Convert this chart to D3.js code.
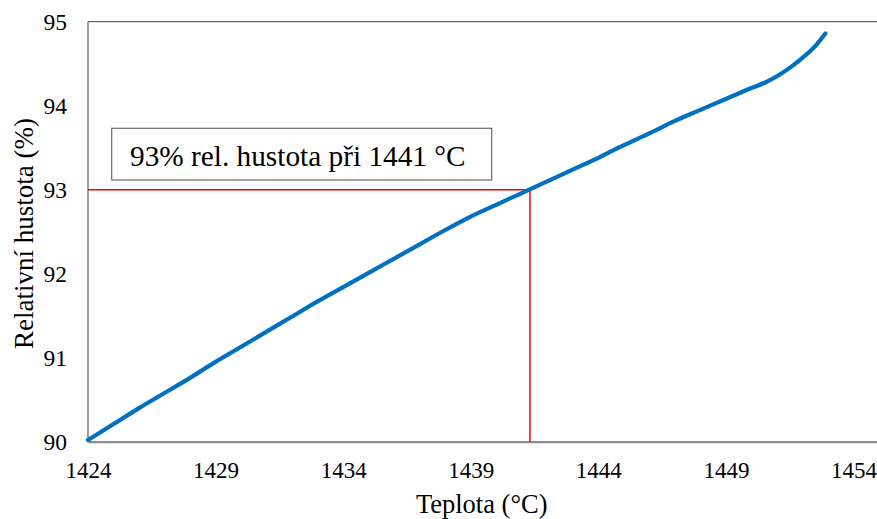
<!DOCTYPE html>
<html><head><meta charset="utf-8">
<script src="https://cdn.jsdelivr.net/npm/d3@7"></script>
<style>body{margin:0;background:#fff;}svg{display:block;}</style>
</head><body>
<svg id="c" width="877" height="519"></svg>
<script>
const temperature = [1424,1425,1426,1427,1428,1429,1430,1431,1432,1433,1434,1435,1436,1437,1438,1439,1440,1441,1442,1443,1444,1445,1446,1447,1448,1449,1450,1450.5,1451,1451.5,1452,1452.5,1452.9];
const density = [90.02,90.21,90.40,90.58,90.76,90.95,91.13,91.31,91.49,91.67,91.84,92.01,92.18,92.35,92.52,92.68,92.82,92.96,93.10,93.24,93.38,93.53,93.67,93.82,93.95,94.08,94.21,94.27,94.35,94.45,94.57,94.71,94.86];
const xTicks = [1424,1429,1434,1439,1444,1449,1454];
const yTicks = [90,91,92,93,94,95];
const markerT = 1441.32, markerRho = 93;
const annotation = "93% rel. hustota při 1441 °C";
const xTitle = "Teplota (°C)", yTitle = "Relativní hustota (%)";

const FONT = '"Liberation Serif","Times New Roman",serif';
const svg = d3.select("#c");
const L=88, R=879, T=21.7, B=441.7;
const x = d3.scaleLinear().domain([1424,1455]).range([L,R]);
const y = d3.scaleLinear().domain([90,95]).range([B,T]);

// frame
svg.append("line").attr("x1",L).attr("x2",R).attr("y1",T).attr("y2",T).attr("stroke","#6b6b6b").attr("stroke-width",1.3);
svg.append("line").attr("x1",L).attr("x2",L).attr("y1",T).attr("y2",B).attr("stroke","#6b6b6b").attr("stroke-width",1.3);
svg.append("line").attr("x1",R).attr("x2",R).attr("y1",T).attr("y2",B).attr("stroke","#6b6b6b").attr("stroke-width",1.3);

// axes
const xAxis = d3.axisBottom(x).tickValues(xTicks).tickSize(0).tickPadding(20).tickFormat(d3.format("d"));
const gx = svg.append("g").attr("transform",`translate(0,${B})`).call(xAxis);
gx.attr("font-family",null);
gx.select(".domain").attr("stroke","#8c8c8c").attr("stroke-width",2.2);
gx.selectAll("text").attr("fill","#000").style("font-family",FONT).style("font-size","23px");
const yAxis = d3.axisLeft(y).tickValues(yTicks).tickSize(0).tickPadding(21).tickFormat(d3.format("d"));
const gy = svg.append("g").attr("transform",`translate(${L},0)`).call(yAxis);
gy.attr("font-family",null);
gy.select(".domain").remove();
gy.selectAll("text").attr("fill","#000").attr("dy","0.33em").style("font-family",FONT).style("font-size","23.5px");

// red marker lines
svg.append("line").attr("x1",L).attr("x2",x(markerT)).attr("y1",y(markerRho)).attr("y2",y(markerRho)).attr("stroke","#ff0000").attr("stroke-width",1.5);
svg.append("line").attr("x1",x(markerT)).attr("x2",x(markerT)).attr("y1",y(markerRho)).attr("y2",B).attr("stroke","#ff0000").attr("stroke-width",1.5);

// curve
const line = d3.line().x((d,i)=>x(temperature[i])).y(d=>y(d)).curve(d3.curveMonotoneX);
svg.append("path").datum(density).attr("d",line).attr("fill","none").attr("stroke","#0070c0").attr("stroke-width",4.2).attr("stroke-linecap","round");

// annotation box
svg.append("rect").attr("x",111.7).attr("y",128.3).attr("width",380).attr("height",51.7).attr("fill","#fff").attr("stroke","#6b6b6b").attr("stroke-width",1.2);
svg.append("text").attr("x",130).attr("y",165.7).attr("text-anchor","start").attr("fill","#000").style("font-family",FONT).style("font-size","29.3px").text(annotation);

// titles
svg.append("text").attr("x",481.7).attr("y",512.5).attr("text-anchor","middle").attr("fill","#000").style("font-family",FONT).style("font-size","26.5px").text(xTitle);
svg.append("text").attr("transform","translate(32.5,233.5) rotate(-90)").attr("text-anchor","middle").attr("fill","#000").style("font-family",FONT).style("font-size","27px").text(yTitle);
</script>
</body></html>
